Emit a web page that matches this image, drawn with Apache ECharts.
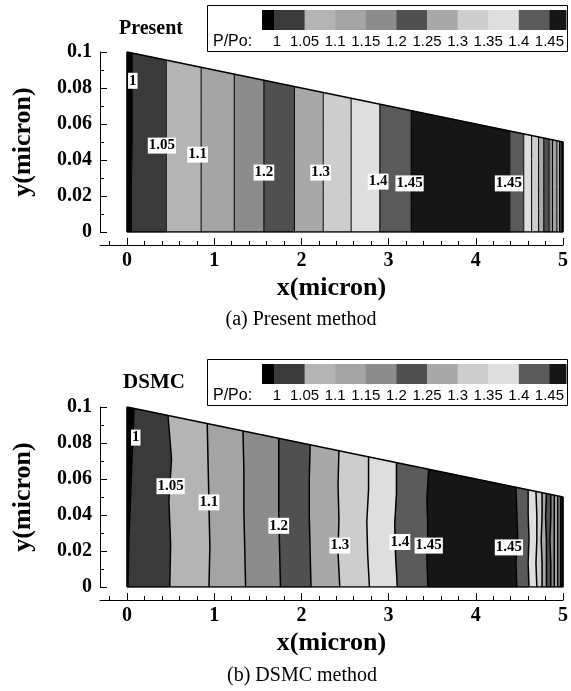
<!DOCTYPE html>
<html><head><meta charset="utf-8">
<script src="https://cdn.jsdelivr.net/npm/echarts@6/dist/echarts.min.js"></script>
<style>html,body{margin:0;padding:0;background:#fff}#c{width:571px;height:691px}</style>
</head><body><div id="c"></div>
<script>
// ---------------- DATA ----------------
const levels = [1, 1.05, 1.1, 1.15, 1.2, 1.25, 1.3, 1.35, 1.4, 1.45];
const levelLabels = ['1', '1.05', '1.1', '1.15', '1.2', '1.25', '1.3', '1.35', '1.4', '1.45'];
// grey shade of each P/Po class: <1, 1-1.05, ..., >1.45
const bandColors = ['#000000', '#3a3a3a', '#b4b4b4', '#a4a4a4', '#8c8c8c', '#505050',
                    '#a8a8a8', '#cdcdcd', '#dedede', '#5a5a5a', '#161616'];
// channel wall (top boundary), micron
const wallX = [0, 5];
const wallY = [0.1, 0.05];
const xTicks = [0, 1, 2, 3, 4, 5];
const xMinorTicks = [-0.2, 0.2, 0.4, 0.6, 0.8, 1.2, 1.4, 1.6, 1.8, 2.2, 2.4, 2.6, 2.8,
                     3.2, 3.4, 3.6, 3.8, 4.2, 4.4, 4.6, 4.8];
// fractional heights (y / local channel height) at which contour crossings are given
const etaSamples = [0, 0.25, 0.5, 0.75, 1];

// (a) Present method: x position of each contour line at etaSamples
const presentBounds = [
  [0.05, 0.05, 0.06, 0.06, 0.06],   // 1
  [0.45, 0.45, 0.45, 0.45, 0.45],   // 1.05
  [0.85, 0.85, 0.85, 0.85, 0.85],   // 1.1
  [1.23, 1.23, 1.23, 1.23, 1.23],   // 1.15
  [1.57, 1.57, 1.57, 1.57, 1.57],   // 1.2
  [1.92, 1.92, 1.92, 1.92, 1.92],   // 1.25
  [2.25, 2.25, 2.25, 2.25, 2.25],   // 1.3
  [2.57, 2.57, 2.57, 2.57, 2.57],   // 1.35
  [2.90, 2.90, 2.90, 2.90, 2.90],   // 1.4
  [3.26, 3.26, 3.26, 3.26, 3.26],   // 1.45
  [4.39, 4.39, 4.39, 4.39, 4.39],   // 1.45
  [4.55, 4.55, 4.55, 4.55, 4.55],   // 1.4
  [4.64, 4.64, 4.64, 4.64, 4.64],   // 1.35
  [4.72, 4.72, 4.72, 4.72, 4.72],   // 1.3
  [4.78, 4.78, 4.78, 4.78, 4.78],   // 1.25
  [4.84, 4.84, 4.84, 4.84, 4.84],   // 1.2
  [4.88, 4.88, 4.88, 4.88, 4.88],   // 1.15
  [4.93, 4.93, 4.93, 4.93, 4.93],   // 1.1
  [4.96, 4.96, 4.96, 4.96, 4.96],   // 1.05
  [4.99, 4.99, 4.99, 4.99, 4.99]    // 1
];
// representative P/Po inside each band (between consecutive contour lines)
const presentBandP = [0.99, 1.02, 1.07, 1.12, 1.17, 1.22, 1.27, 1.32, 1.37, 1.42, 1.47,
                      1.42, 1.37, 1.32, 1.27, 1.22, 1.17, 1.12, 1.07, 1.02, 0.99];
const presentLabelText = ['1', '1.05', '1.1', '1.2', '1.3', '1.4', '1.45', '1.45'];
const presentLabelX = [0.066, 0.40, 0.81, 1.57, 2.22, 2.88, 3.24, 4.38];
const presentLabelY = [0.084, 0.048, 0.043, 0.033, 0.033, 0.028, 0.027, 0.027];

// (b) DSMC method
const dsmcBounds = [
  [0.01, 0.02, 0.04, 0.06, 0.08],   // 1
  [0.49, 0.50, 0.48, 0.51, 0.47],   // 1.05
  [0.94, 0.95, 0.94, 0.93, 0.92],   // 1.1
  [1.36, 1.35, 1.34, 1.34, 1.33],   // 1.15
  [1.76, 1.75, 1.74, 1.74, 1.74],   // 1.2
  [2.11, 2.10, 2.09, 2.09, 2.10],   // 1.25
  [2.44, 2.42, 2.43, 2.42, 2.43],   // 1.3
  [2.78, 2.76, 2.75, 2.77, 2.77],   // 1.35
  [3.10, 3.08, 3.07, 3.09, 3.09],   // 1.4
  [3.45, 3.44, 3.45, 3.44, 3.46],   // 1.45
  [4.47, 4.46, 4.48, 4.47, 4.46],   // 1.45
  [4.61, 4.60, 4.61, 4.60, 4.60],   // 1.4
  [4.70, 4.69, 4.70, 4.70, 4.69],   // 1.35
  [4.76, 4.76, 4.75, 4.76, 4.76],   // 1.3
  [4.81, 4.81, 4.81, 4.80, 4.81],   // 1.25
  [4.86, 4.86, 4.85, 4.86, 4.86],   // 1.2
  [4.90, 4.90, 4.90, 4.90, 4.90],   // 1.15
  [4.94, 4.94, 4.94, 4.94, 4.94],   // 1.1
  [4.97, 4.97, 4.97, 4.97, 4.97],   // 1.05
  [4.99, 4.99, 4.99, 4.99, 4.99]    // 1
];
const dsmcBandP = [0.99, 1.02, 1.07, 1.12, 1.17, 1.22, 1.27, 1.32, 1.37, 1.42, 1.47,
                   1.42, 1.37, 1.32, 1.27, 1.22, 1.17, 1.12, 1.07, 1.02, 0.99];
const dsmcLabelText = ['1', '1.05', '1.1', '1.2', '1.3', '1.4', '1.45', '1.45'];
const dsmcLabelX = [0.10, 0.50, 0.94, 1.74, 2.44, 3.13, 3.46, 4.38];
const dsmcLabelY = [0.083, 0.056, 0.047, 0.034, 0.023, 0.025, 0.023, 0.022];

// ---------------- HELPERS ----------------
const SERIF = '"Liberation Serif","Times New Roman",serif';
const SANS = '"Liberation Sans",Arial,sans-serif';

function wallH(x) {
  for (let k = 0; k < wallX.length - 1; k++) {
    if (x <= wallX[k + 1] || k === wallX.length - 2) {
      const t = (x - wallX[k]) / (wallX[k + 1] - wallX[k]);
      return wallY[k] + t * (wallY[k + 1] - wallY[k]);
    }
  }
}
function bandClass(p) {
  let c = 0;
  levels.forEach(l => { if (p >= l) c++; });
  return c;
}
function boundaryPts(b) {
  return etaSamples.map((e, k) => [b[k], e * wallH(b[k])]);
}

function panelSeries(g, bounds, bandP, lblText, lblX, lblY, lineW) {
  const leftEdge = etaSamples.map(() => wallX[0]);
  const rightEdge = etaSamples.map(() => wallX[wallX.length - 1]);
  const full = [leftEdge].concat(bounds, [rightEdge]);
  const series = [];
  series.push({
    type: 'custom', xAxisIndex: g, yAxisIndex: g, silent: true,
    data: bandP.map((p, i) => [i, p]),
    renderItem: function (params, api) {
      const i = api.value(0);
      const p = api.value(1);
      const pts = boundaryPts(full[i]).concat(boundaryPts(full[i + 1]).reverse())
        .map(q => api.coord(q));
      const col = bandColors[bandClass(p)];
      return { type: 'polygon', shape: { points: pts },
               style: { fill: col, stroke: col, lineWidth: 0.6 } };
    }
  });
  series.push({
    type: 'custom', xAxisIndex: g, yAxisIndex: g, silent: true,
    data: bounds.map((b, i) => [i]),
    renderItem: function (params, api) {
      const i = api.value(0);
      const pts = boundaryPts(bounds[i]).map(q => api.coord(q));
      return { type: 'polyline', shape: { points: pts },
               style: { stroke: '#000', lineWidth: lineW, fill: null } };
    }
  });
  const outline = [[wallX[0], 0], [wallX[wallX.length - 1], 0]];
  for (let k = wallX.length - 1; k >= 0; k--) outline.push([wallX[k], wallY[k]]);
  outline.push([wallX[0], 0]);
  series.push({
    type: 'line', xAxisIndex: g, yAxisIndex: g, silent: true, symbol: 'none',
    data: outline, lineStyle: { color: '#000', width: 1.5 }, z: 3
  });
  series.push({
    type: 'custom', xAxisIndex: g, yAxisIndex: g, silent: true, z: 5,
    data: lblText.map((t, i) => [lblX[i], lblY[i], i]),
    renderItem: function (params, api) {
      const c = api.coord([api.value(0), api.value(1)]);
      const i = api.value(2);
      return { type: 'text', x: c[0], y: c[1],
        style: { text: lblText[i], fill: '#000', font: 'bold 15px ' + SERIF,
                 align: 'center', verticalAlign: 'middle',
                 backgroundColor: '#fff', padding: [1, 1, 0, 1] } };
    }
  });
  return series;
}

function legendGraphic(T) {
  const els = [];
  els.push({ type: 'rect', shape: { x: 207.5, y: T + 5.5, width: 360, height: 46 },
             style: { fill: '#fff', stroke: '#000', lineWidth: 1 }, z: 10 });
  const b0 = 274, step = 30.6;
  const edges = [262];
  levels.forEach((l, k) => edges.push(b0 + k * step));
  edges.push(566);
  for (let k = 0; k < edges.length - 1; k++) {
    els.push({ type: 'rect', shape: { x: edges[k], y: T + 10, width: edges[k + 1] - edges[k] + 0.5, height: 20 },
               style: { fill: bandColors[k] }, z: 11 });
  }
  els.push({ type: 'text', x: 213, y: T + 42, style: { text: 'P/Po:', font: '16px ' + SANS,
             fill: '#000', verticalAlign: 'middle', align: 'left' }, z: 12 });
  levelLabels.forEach((t, k) => {
    els.push({ type: 'text', x: b0 + k * step + (k === 0 ? 3 : 0), y: T + 42,
               style: { text: t, font: '15px ' + SANS, fill: '#000', align: 'center', verticalAlign: 'middle' }, z: 12 });
  });
  return els;
}

function xMain(g) {
  return {
    gridIndex: g, type: 'value', min: -0.31, max: 5, position: 'bottom', offset: 13,
    axisLine: { show: true, onZero: false, lineStyle: { color: '#000', width: 1 } },
    axisTick: { show: true, inside: true, length: 7, customValues: xTicks, lineStyle: { color: '#000' } },
    axisLabel: { customValues: xTicks, fontFamily: SERIF, fontWeight: 'bold', fontSize: 20, color: '#000', margin: 6 },
    splitLine: { show: false },
    name: 'x(micron)', nameLocation: 'middle', nameGap: 30,
    nameTextStyle: { fontFamily: SERIF, fontWeight: 'bold', fontSize: 26, color: '#000' }
  };
}
function xMinor(g) {
  return {
    gridIndex: g, type: 'value', min: -0.31, max: 5, position: 'bottom', offset: 13,
    axisLine: { show: false, onZero: false },
    axisTick: { show: true, inside: true, length: 4, customValues: xMinorTicks, lineStyle: { color: '#000' } },
    axisLabel: { show: false }, splitLine: { show: false }
  };
}
function yMain(g) {
  return {
    gridIndex: g, type: 'value', min: 0, max: 0.1, interval: 0.02,
    axisLine: { show: true, onZero: false, lineStyle: { color: '#000', width: 1 } },
    axisTick: { show: true, inside: true, length: 7, lineStyle: { color: '#000' } },
    minorTick: { show: true, splitNumber: 2, length: 4, lineStyle: { color: '#000' } },
    axisLabel: { fontFamily: SERIF, fontWeight: 'bold', fontSize: 20, color: '#000', margin: 8 },
    splitLine: { show: false }, minorSplitLine: { show: false },
    name: 'y(micron)', nameLocation: 'middle', nameGap: 64,
    nameTextStyle: { fontFamily: SERIF, fontWeight: 'bold', fontSize: 26, color: '#000' }
  };
}

const chart = echarts.init(document.getElementById('c'), null, { renderer: 'canvas', width: 571, height: 691 });
const option = {
  backgroundColor: '#fff',
  animation: false,
  grid: [
    { left: 100, width: 466, top: 52, height: 180 },
    { left: 100, width: 466, top: 407, height: 180 }
  ],
  xAxis: [xMain(0), xMain(1), xMinor(0), xMinor(1)],
  yAxis: [yMain(0), yMain(1)],
  series: [].concat(
    panelSeries(0, presentBounds, presentBandP, presentLabelText, presentLabelX, presentLabelY, 1),
    panelSeries(1, dsmcBounds, dsmcBandP, dsmcLabelText, dsmcLabelX, dsmcLabelY, 1.5)
  ),
  graphic: [].concat(
    legendGraphic(0), legendGraphic(354),
    [
      { type: 'text', x: 151, y: 29, style: { text: 'Present', font: 'bold 20px ' + SERIF, fill: '#000', align: 'center', verticalAlign: 'middle' } },
      { type: 'text', x: 154, y: 383, style: { text: 'DSMC', font: 'bold 21px ' + SERIF, fill: '#000', align: 'center', verticalAlign: 'middle' } },
      { type: 'text', x: 301, y: 320, style: { text: '(a) Present method', font: '20px ' + SERIF, fill: '#000', align: 'center', verticalAlign: 'middle' } },
      { type: 'text', x: 302, y: 676, style: { text: '(b) DSMC method', font: '20px ' + SERIF, fill: '#000', align: 'center', verticalAlign: 'middle' } }
    ]
  )
};
chart.setOption(option);
</script>
</body></html>
